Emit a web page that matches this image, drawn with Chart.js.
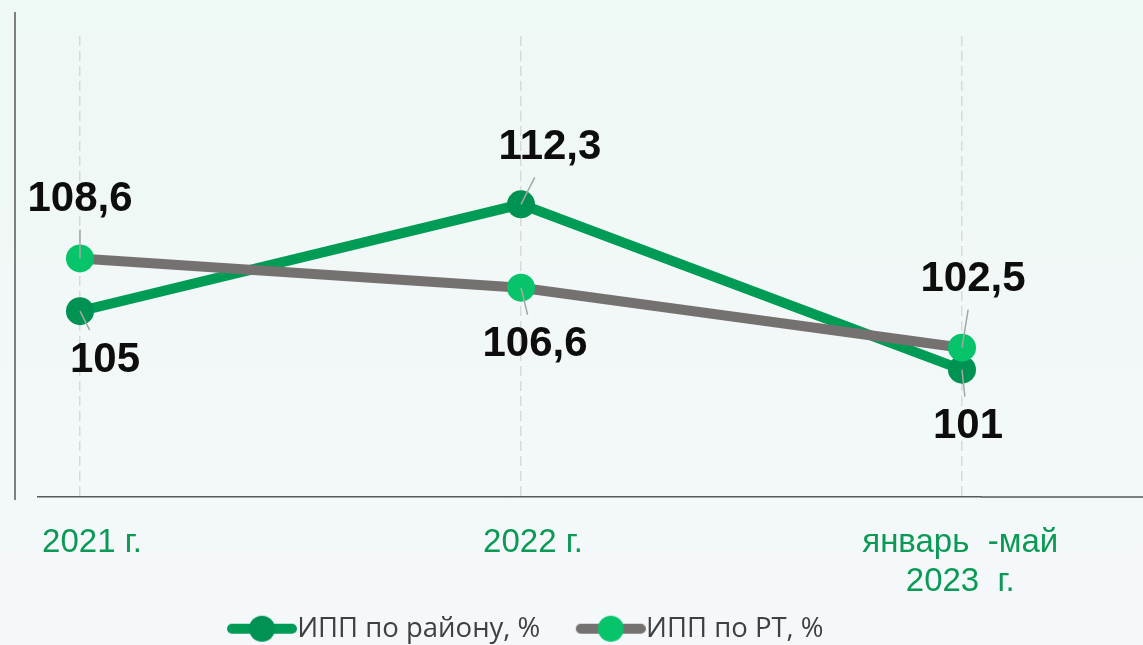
<!DOCTYPE html>
<html lang="ru">
<head>
<meta charset="utf-8">
<title>ИПП</title>
<script src="https://cdn.jsdelivr.net/npm/chart.js@4.4.1/dist/chart.umd.min.js"></script>
<style>
  html, body { margin: 0; padding: 0; }
  body { background: linear-gradient(to bottom, #eef8f4 0%, #f5f8fb 100%); }
  #wrap { width: 1143px; height: 645px; position: relative; }
</style>
</head>
<body>
<div id="wrap"><canvas id="chart"></canvas></div>
<script>
// data
const categories = ['2021 г.', '2022 г.', ['январь  -май   ', '2023  г.   ']];
const seriesNames = ['ИПП по району, %', 'ИПП по РТ, %'];
const districtValues = [105, 112.3, 101];
const rtValues = [108.6, 106.6, 102.5];

// where the value label sits relative to its point (dx, dy)
const districtLabelOffsets = [[25, 49], [29, -57], [6, 57]];
const rtLabelOffsets = [[0, -59], [14, 57], [11, -68]];

const darkGreen = '#009b55';
const darkGreenDot = '#009252';
const lightGreen = '#07c46b';
const grey = '#767171';

// legend icon: thick line with a dot, transparent on the left so it hugs the text
function legendIcon(lineColor, dotColor) {
  const c = document.createElement('canvas');
  c.width = 115;
  c.height = 30;
  const g = c.getContext('2d');
  g.strokeStyle = lineColor;
  g.lineWidth = 10;
  g.lineCap = 'round';
  g.beginPath();
  g.moveTo(50, 15);
  g.lineTo(110, 15);
  g.stroke();
  g.fillStyle = dotColor;
  g.beginPath();
  g.arc(80, 15, 13, 0, Math.PI * 2);
  g.fill();
  return c;
}
const icons = [legendIcon(darkGreen, darkGreenDot), legendIcon(grey, lightGreen)];

const fmt = v => String(v).replace('.', ',');

const valueLabels = {
  id: 'valueLabels',
  afterDatasetsDraw(chart) {
    const ctx = chart.ctx;
    chart.data.datasets.forEach((ds, di) => {
      const meta = chart.getDatasetMeta(di);
      meta.data.forEach((pt, i) => {
        const [dx, dy] = ds.labelOffsets[i];
        const lx = pt.x + dx, ly = pt.y + dy;
        const ey = ly - Math.sign(dy) * 30;
        const ex = pt.x + dx * (ey - pt.y) / dy;
        ctx.save();
        ctx.strokeStyle = '#a6a6a6';
        ctx.lineWidth = 1.5;
        ctx.beginPath();
        ctx.moveTo(pt.x, pt.y);
        ctx.lineTo(ex, ey);
        ctx.stroke();
        ctx.fillStyle = '#0d0d0d';
        ctx.font = 'bold 42px "Liberation Sans", Arial, sans-serif';
        ctx.textAlign = 'center';
        ctx.textBaseline = 'middle';
        ctx.fillText(fmt(ds.data[i].y), lx, ly);
        ctx.restore();
      });
    });
  }
};

const axisLines = {
  id: 'axisLines',
  afterDraw(chart) {
    const ctx = chart.ctx;
    const a = chart.chartArea;
    ctx.save();
    ctx.strokeStyle = '#7f7f7f';
    ctx.lineWidth = 2;
    ctx.beginPath();
    ctx.moveTo(15, 12);
    ctx.lineTo(15, 500);
    ctx.stroke();
    ctx.strokeStyle = '#595959';
    ctx.lineWidth = 1.5;
    ctx.beginPath();
    ctx.moveTo(a.right, a.bottom);
    ctx.lineTo(chart.width, a.bottom);
    ctx.stroke();
    ctx.restore();
  }
};

new Chart(document.getElementById('chart'), {
  type: 'line',
  data: {
    datasets: [
      {
        label: seriesNames[0],
        data: districtValues.map((v, i) => ({ x: i, y: v })),
        labelOffsets: districtLabelOffsets,
        borderColor: darkGreen,
        backgroundColor: darkGreenDot,
        pointBackgroundColor: darkGreenDot,
        pointBorderWidth: 0,
        borderWidth: 10,
        pointRadius: 14,
        tension: 0,
        order: 1
      },
      {
        label: seriesNames[1],
        data: rtValues.map((v, i) => ({ x: i, y: v })),
        labelOffsets: rtLabelOffsets,
        borderColor: grey,
        backgroundColor: lightGreen,
        pointBackgroundColor: lightGreen,
        pointBorderWidth: 0,
        borderWidth: 10,
        pointRadius: 14,
        tension: 0,
        order: 0
      }
    ]
  },
  options: {
    responsive: true,
    maintainAspectRatio: false,
    animation: false,
    layout: { padding: { left: 38, right: 162, top: 36, bottom: 0 } },
    scales: {
      x: {
        type: 'linear',
        min: -0.0952,
        max: 2.0431,
        afterBuildTicks: scale => { scale.ticks = categories.map((c, i) => ({ value: i })); },
        afterFit: scale => { scale.height = 114; },
        ticks: {
          callback: v => categories[v],
          color: '#0b9a55',
          font: { family: '"Liberation Sans", Arial, sans-serif', size: 33 },
          padding: 26,
          labelOffset: 12,
          maxRotation: 0,
          autoSkip: false
        },
        grid: { color: '#d9d9d9', lineWidth: 1.5, drawTicks: false },
        border: { display: true, color: '#595959', width: 1.5, dash: [10, 5] }
      },
      y: {
        display: false,
        min: 92.3,
        max: 123.8
      }
    },
    plugins: {
      tooltip: { enabled: false },
      legend: {
        position: 'bottom',
        maxHeight: 34,
        labels: {
          usePointStyle: true,
          pointStyleWidth: 88,
          padding: 4,
          color: '#404040',
          font: { family: '"Open Sans", sans-serif', size: 27.5 },
          sort: (a, b) => a.datasetIndex - b.datasetIndex,
          generateLabels: chart => Chart.defaults.plugins.legend.labels.generateLabels(chart)
            .map(item => Object.assign(item, { pointStyle: icons[item.datasetIndex] }))
        }
      }
    }
  },
  plugins: [valueLabels, axisLines]
});
</script>
</body>
</html>
